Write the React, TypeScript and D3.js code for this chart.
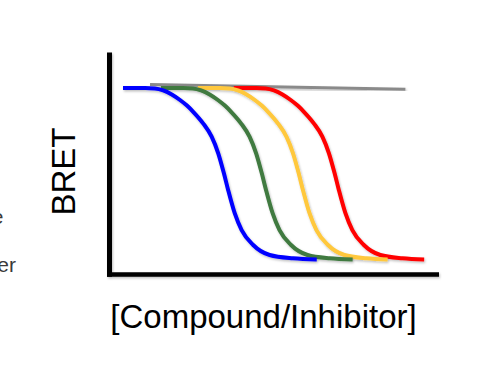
import React from "react";
import * as d3 from "d3";

// Dose–response curves: x = log[Compound/Inhibitor] (arbitrary units 0–10), y = BRET signal (0–100)
const blueX = [0.41, 1.08, 1.38, 1.63, 1.89, 2.14, 2.35, 2.54, 2.84, 3.10, 3.30, 3.47, 3.60, 3.80, 4.01, 4.36, 4.86, 5.57, 6.29];
const blueY = [84.0, 84.0, 83.8, 82.9, 81.1, 78.6, 76.1, 73.3, 68.1, 62.1, 54.6, 45.7, 38.1, 27.6, 20.0, 13.3, 8.8, 7.3, 6.8];

const greenX = [1.56, 2.23, 2.53, 2.78, 3.04, 3.29, 3.50, 3.69, 3.99, 4.25, 4.45, 4.62, 4.75, 4.95, 5.16, 5.51, 6.01, 6.68, 7.38];
const greenY = [84.0, 84.0, 83.8, 82.9, 81.1, 78.6, 76.1, 73.3, 68.1, 62.1, 54.6, 45.7, 38.1, 27.6, 20.0, 13.3, 8.8, 7.3, 6.8];

const yellowX = [2.68, 3.35, 3.65, 3.90, 4.16, 4.41, 4.62, 4.81, 5.11, 5.37, 5.57, 5.74, 5.87, 6.07, 6.28, 6.63, 7.13, 7.80, 8.44];
const yellowY = [84.0, 84.0, 83.8, 82.9, 81.1, 78.6, 76.1, 73.3, 68.1, 62.1, 54.6, 45.7, 38.1, 27.6, 20.0, 13.3, 8.8, 7.3, 6.8];

const redX = [3.77, 4.44, 4.74, 4.99, 5.25, 5.50, 5.71, 5.90, 6.20, 6.46, 6.66, 6.83, 6.96, 7.16, 7.37, 7.72, 8.22, 8.89, 9.55];
const redY = [84.0, 84.0, 83.8, 82.9, 81.1, 78.6, 76.1, 73.3, 68.1, 62.1, 54.6, 45.7, 38.1, 27.6, 20.0, 13.3, 8.8, 7.3, 6.8];

const controlX = [1.23, 8.98];
const controlY = [85.6, 83.4];

const seriesNames = ["red", "yellow", "green", "blue"];
const seriesColors = ["#ff0000", "#ffc83c", "#3f7a3f", "#0000ff"];
const seriesXs = [redX, yellowX, greenX, blueX];
const seriesYs = [redY, yellowY, greenY, blueY];

const xAxisLabel = "[Compound/Inhibitor]";
const yAxisLabel = "BRET";
const sideTexts = ["e", "er"];

export default function App() {
  const W = 480;
  const H = 371;
  const x = d3.scaleLinear().domain([0, 10]).range([109.5, 439]);
  const y = d3.scaleLinear().domain([0, 100]).range([274.5, 52.5]);

  const line = d3
    .line<[number, number]>()
    .x((d) => x(d[0]))
    .y((d) => y(d[1]))
    .curve(d3.curveMonotoneX);

  const straight = d3
    .line<[number, number]>()
    .x((d) => x(d[0]))
    .y((d) => y(d[1]));

  const zip = (xs: number[], ys: number[]) => xs.map((v, i) => [v, ys[i]] as [number, number]);

  return (
    <svg
      width={W}
      height={H}
      style={{ position: "absolute", left: 0, top: 0, background: "#fff" }}
    >
      <defs>
        <filter id="sh" x="-10%" y="-10%" width="130%" height="130%">
          <feDropShadow dx="1" dy="1.5" stdDeviation="0.8" floodColor="#000" floodOpacity="0.25" />
        </filter>
      </defs>
      <rect width={W} height={H} fill="#fff" />

      {/* axes */}
      <g filter="url(#sh)">
        <line
          x1={x(0)}
          x2={x(0)}
          y1={y(100)}
          y2={y(-1)}
          stroke="#000"
          strokeWidth={5}
        />
        <line
          x1={x(0) - 2.5}
          x2={x(10)}
          y1={y(0)}
          y2={y(0)}
          stroke="#000"
          strokeWidth={4.5}
        />
      </g>

      {/* control (flat) line */}
      <path
        d={straight(zip(controlX, controlY)) || ""}
        fill="none"
        stroke="#8a8a8a"
        strokeWidth={3}
        filter="url(#sh)"
      />

      {/* dose–response curves */}
      {seriesNames.map((name, i) => (
        <path
          key={name}
          d={line(zip(seriesXs[i], seriesYs[i])) || ""}
          fill="none"
          stroke={seriesColors[i]}
          strokeWidth={4}
          filter="url(#sh)"
        />
      ))}

      {/* labels */}
      <text
        transform={`translate(75,171.5) rotate(-90)`}
        textAnchor="middle"
        fontFamily="Liberation Sans, Arial, sans-serif"
        fontSize={33}
        fill="#000"
      >
        {yAxisLabel}
      </text>
      <text
        x={263.5}
        y={328}
        textAnchor="middle"
        fontFamily="Liberation Sans, Arial, sans-serif"
        fontSize={33}
        fill="#000"
      >
        {xAxisLabel}
      </text>

      <text x={3.5} y={224} textAnchor="end" fontFamily="Liberation Sans, Arial, sans-serif" fontSize={21} fill="#3a3a3a">
        {sideTexts[0]}
      </text>
      <text x={16} y={272} textAnchor="end" fontFamily="Liberation Sans, Arial, sans-serif" fontSize={21} fill="#3a3a3a">
        {sideTexts[1]}
      </text>
    </svg>
  );
}
